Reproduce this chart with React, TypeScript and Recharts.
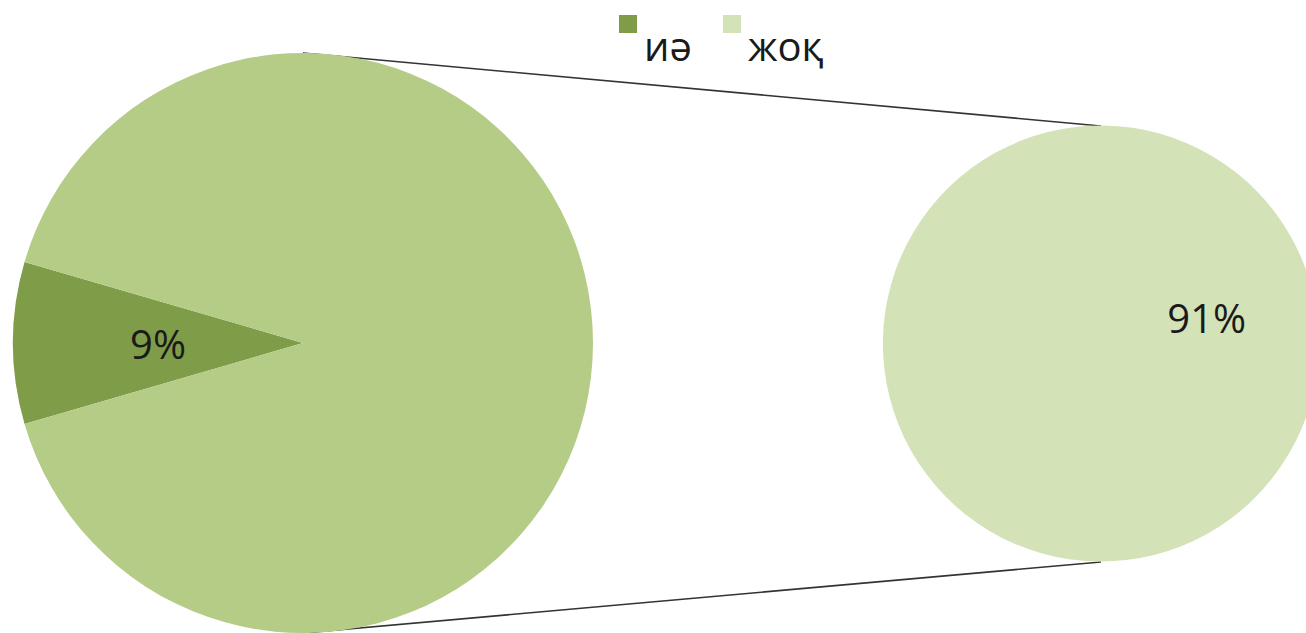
import { PieChart, Pie, Cell, Customized } from "recharts";

// answer shares (%)
const categories = ["иә", "жоқ"];
const shares = [9, 91];
const colors = ["#7f9d48", "#d4e2b8"];
const otherColor = "#b4cc86";

const W = 1306;
const H = 633;

// main pie: "иә" on its own, everything else grouped and split out to the right
const mainData = [
  { name: categories[0], value: shares[0], color: colors[0] },
  { name: "other", value: shares[1], color: otherColor },
];
const splitData = [{ name: categories[1], value: shares[1], color: colors[1] }];

const MAIN = { cx: 303, cy: 343, r: 290 };
const SPLIT = { cx: 1101, cy: 344, r: 218 };
const FONT = "'Open Sans', 'Noto Sans', sans-serif";

const mainStart = 180 - (shares[0] * 360) / 100 / 2;

const RADIAN = Math.PI / 180;

function renderLabel(props: any) {
  const { cx, cy, midAngle, outerRadius, index, payload } = props;
  if (payload && payload.name === "other") return null;
  const r = outerRadius * 0.5;
  const x = cx + r * Math.cos(-midAngle * RADIAN);
  const y = cy + r * Math.sin(-midAngle * RADIAN);
  return (
    <text
      key={`lbl-${index}`}
      x={x}
      y={y}
      textAnchor="middle"
      dominantBaseline="central"
      fill="#1a1a1a"
      fontSize={40}
      fontFamily={FONT}
    >
      {payload.value}%
    </text>
  );
}

function Connectors() {
  return (
    <g stroke="#333" strokeWidth={1.6}>
      <line x1={MAIN.cx} y1={MAIN.cy - MAIN.r} x2={SPLIT.cx} y2={SPLIT.cy - SPLIT.r} />
      <line x1={MAIN.cx} y1={MAIN.cy + MAIN.r} x2={SPLIT.cx} y2={SPLIT.cy + SPLIT.r} />
    </g>
  );
}

function LegendBox() {
  const xs = [619, 723];
  return (
    <div style={{ position: "absolute", left: 0, top: 0, width: W, height: 70, fontFamily: FONT, pointerEvents: "none" }}>
      {categories.map((c, i) => (
        <div key={c}>
          <div
            style={{
              position: "absolute",
              left: xs[i],
              top: 15,
              width: 18,
              height: 18,
              background: colors[i],
            }}
          />
          <div
            style={{
              position: "absolute",
              left: xs[i] + 25,
              top: 22,
              fontSize: 40,
              lineHeight: "48px",
              color: "#1a1a1a",
            }}
          >
            {c}
          </div>
        </div>
      ))}
    </div>
  );
}

export default function App() {
  return (
    <div style={{ position: "absolute", left: 0, top: 0, width: W, height: H, background: "#fff", overflow: "hidden" }}>
      <PieChart width={W} height={H} margin={{ top: 0, right: 0, bottom: 0, left: 0 }}>
        <Pie
          data={mainData}
          dataKey="value"
          cx={MAIN.cx}
          cy={MAIN.cy}
          outerRadius={MAIN.r}
          startAngle={mainStart}
          endAngle={mainStart + 360}
          stroke="none"
          label={renderLabel}
          labelLine={false}
          isAnimationActive={false}
        >
          {mainData.map((d) => (
            <Cell key={d.name} fill={d.color} />
          ))}
        </Pie>
        <Pie
          data={splitData}
          dataKey="value"
          cx={SPLIT.cx}
          cy={SPLIT.cy}
          outerRadius={SPLIT.r}
          startAngle={-166}
          endAngle={194}
          stroke="none"
          label={renderLabel}
          labelLine={false}
          isAnimationActive={false}
        >
          {splitData.map((d) => (
            <Cell key={d.name} fill={d.color} />
          ))}
        </Pie>
        <Customized component={Connectors} />
      </PieChart>
      <LegendBox />
    </div>
  );
}
